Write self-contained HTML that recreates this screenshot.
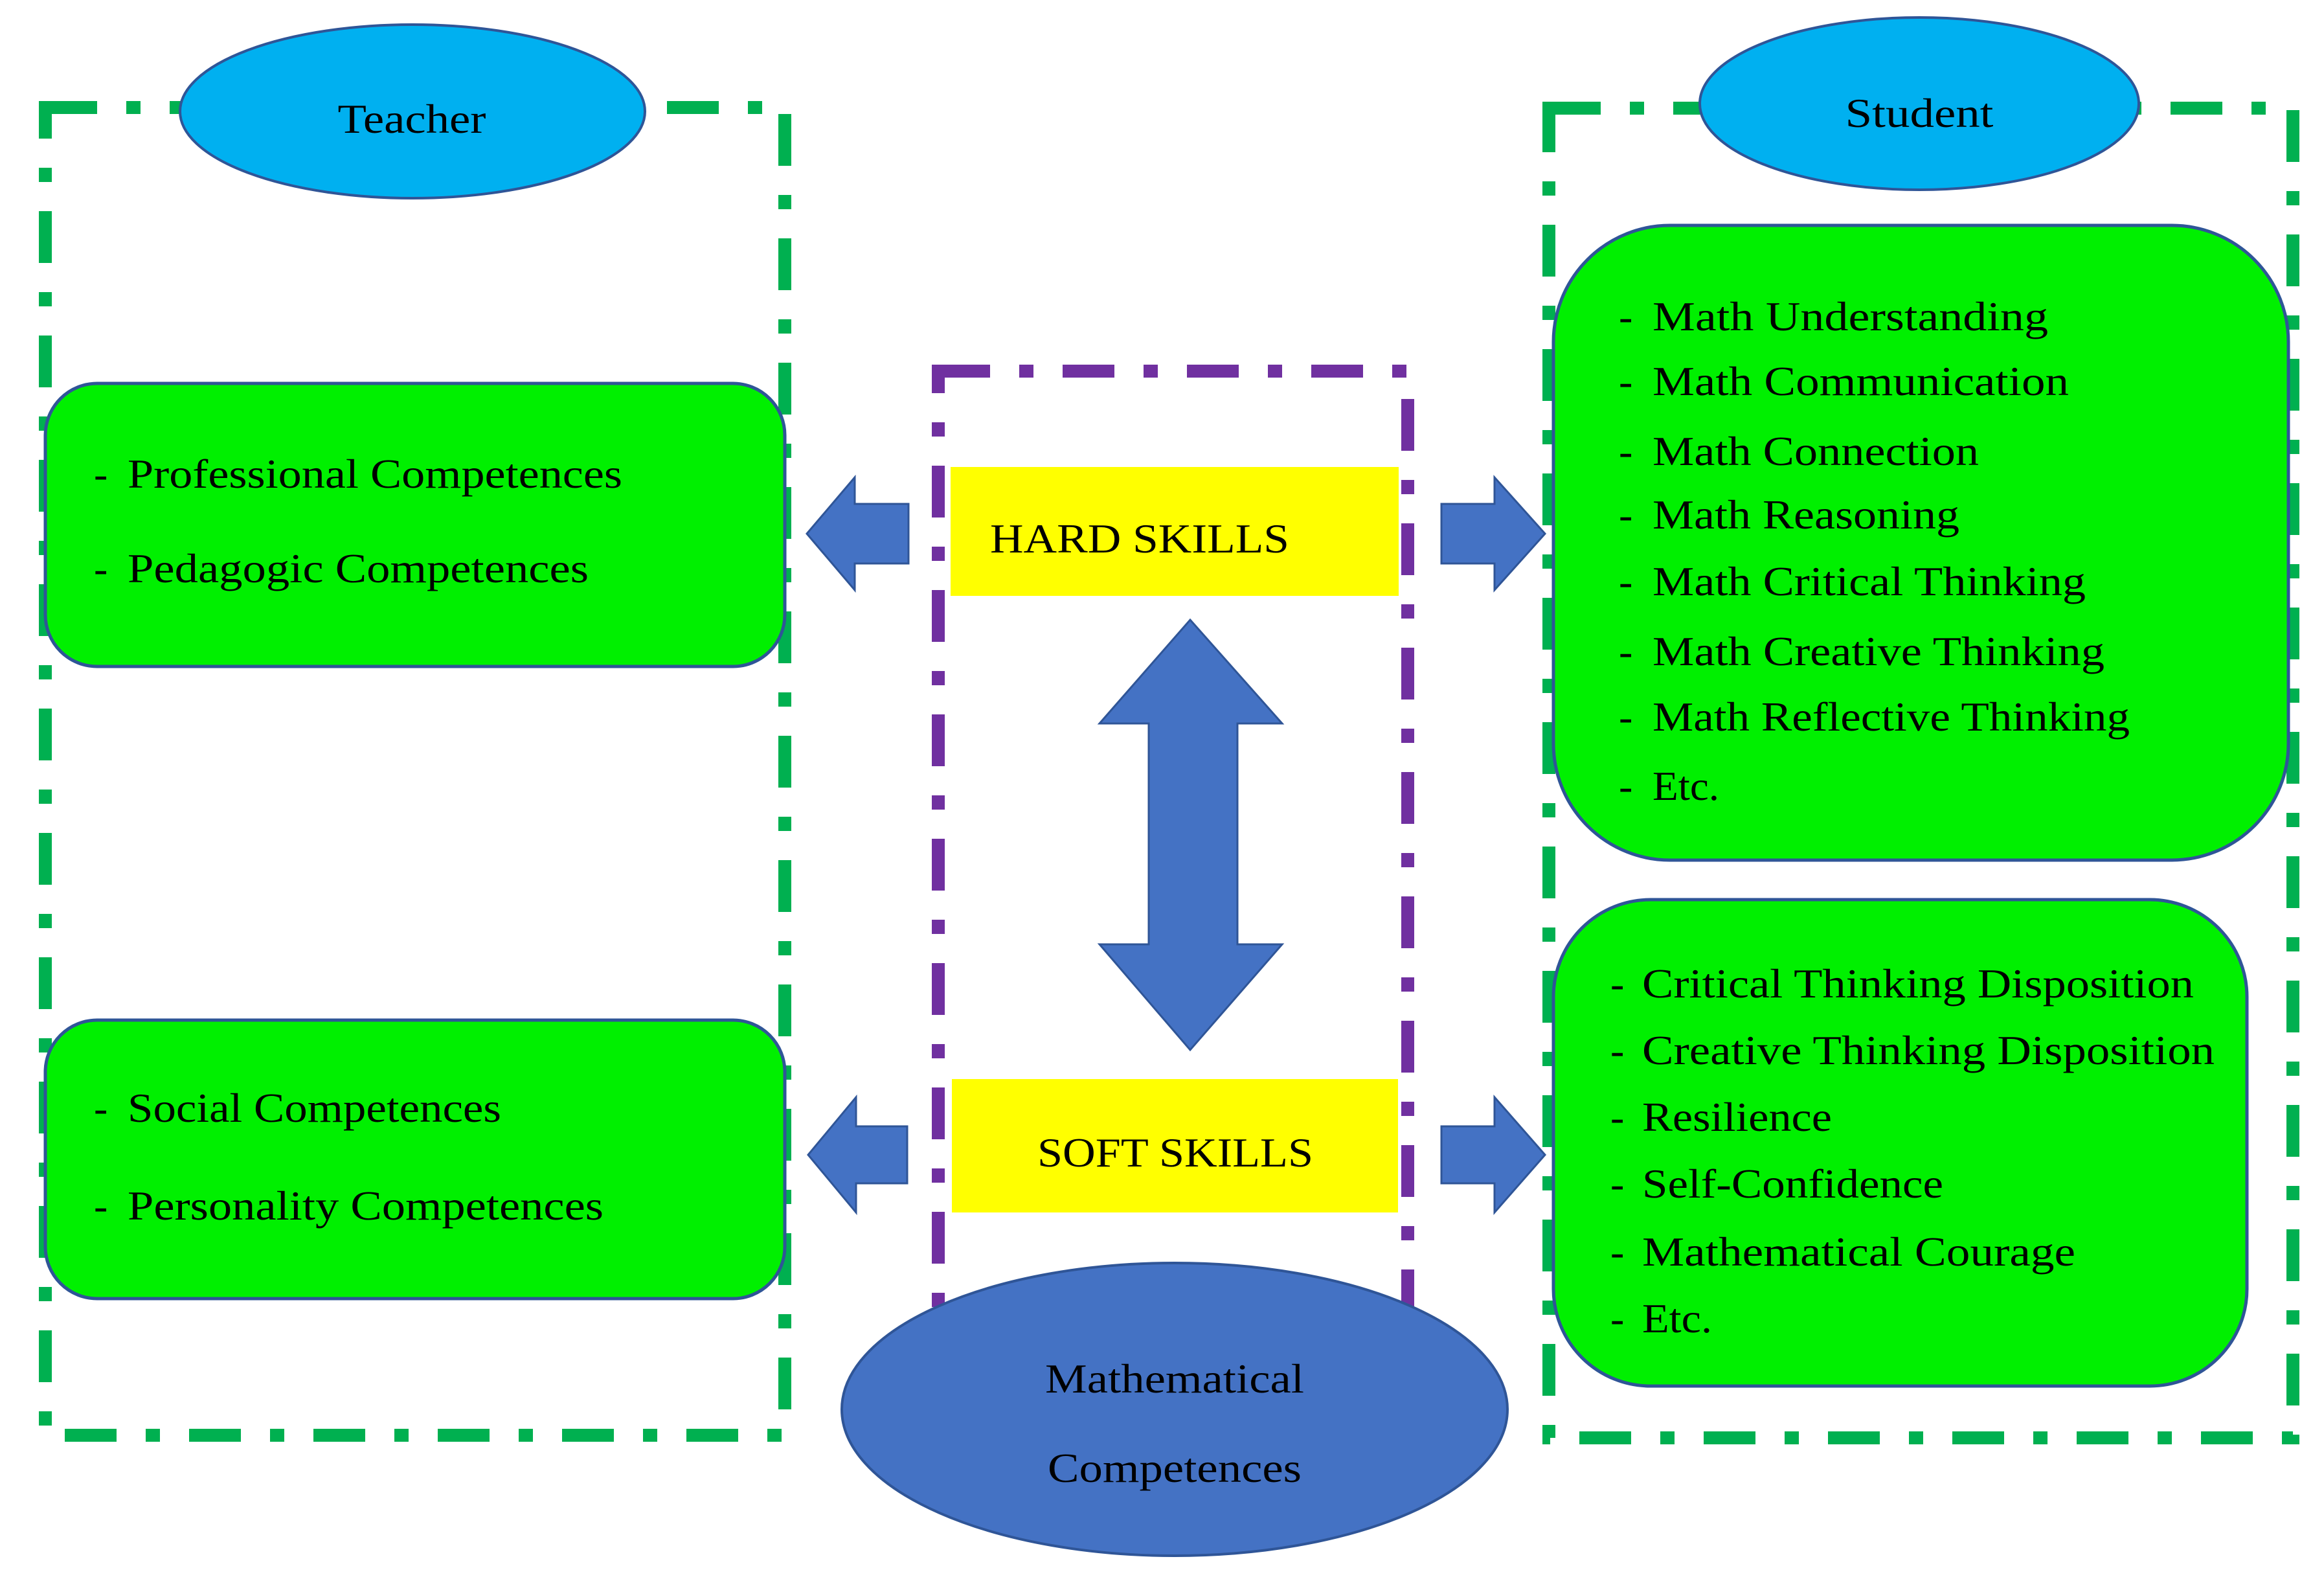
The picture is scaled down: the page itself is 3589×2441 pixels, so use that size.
<!DOCTYPE html>
<html><head><meta charset="utf-8"><style>html,body{margin:0;padding:0;background:#fff}svg{display:block}</style></head>
<body>
<svg width="3589" height="2441" viewBox="0 0 3589 2441" xmlns="http://www.w3.org/2000/svg" font-family="'Liberation Serif', serif" font-size="64" fill="#000">
<rect width="3589" height="2441" fill="#fff"/>
<g fill="none" stroke-width="20" stroke-dasharray="80 45 22 45">
<rect x="70" y="166" width="1142" height="2050" stroke="#00B050"/>
<rect x="2392" y="167" width="1149" height="2053" stroke="#00B050"/>
<rect x="1449" y="573" width="725" height="1500" stroke="#7030A0"/>
</g>
<ellipse cx="637" cy="172" rx="359" ry="134" fill="#00B0F0" stroke="#2F5597" stroke-width="4"/>
<text x="636" y="205" text-anchor="middle" textLength="229" lengthAdjust="spacingAndGlyphs">Teacher</text>
<ellipse cx="2964" cy="160" rx="339" ry="133" fill="#00B0F0" stroke="#2F5597" stroke-width="4"/>
<text x="2964" y="196" text-anchor="middle" textLength="229" lengthAdjust="spacingAndGlyphs">Student</text>
<g fill="#00F000" stroke="#2F5597" stroke-width="5">
<rect x="70" y="592" width="1142" height="437" rx="80"/>
<rect x="70" y="1575" width="1142" height="430" rx="80"/>
<rect x="2399" y="348" width="1135" height="980" rx="180"/>
<rect x="2399" y="1389" width="1071" height="751" rx="150"/>
</g>
<g>
<text x="145" y="753">-</text><text x="197" y="753" textLength="764" lengthAdjust="spacingAndGlyphs">Professional Competences</text>
<text x="145" y="899">-</text><text x="197" y="899" textLength="712" lengthAdjust="spacingAndGlyphs">Pedagogic Competences</text>
<text x="145" y="1732">-</text><text x="197" y="1732" textLength="577" lengthAdjust="spacingAndGlyphs">Social Competences</text>
<text x="145" y="1883">-</text><text x="197" y="1883" textLength="735" lengthAdjust="spacingAndGlyphs">Personality Competences</text>
</g>
<g>
<text x="2500" y="510">-</text><text x="2552" y="510" textLength="611" lengthAdjust="spacingAndGlyphs">Math Understanding</text>
<text x="2500" y="610">-</text><text x="2552" y="610" textLength="643" lengthAdjust="spacingAndGlyphs">Math Communication</text>
<text x="2500" y="718">-</text><text x="2552" y="718" textLength="504" lengthAdjust="spacingAndGlyphs">Math Connection</text>
<text x="2500" y="816">-</text><text x="2552" y="816" textLength="474" lengthAdjust="spacingAndGlyphs">Math Reasoning</text>
<text x="2500" y="919">-</text><text x="2552" y="919" textLength="669" lengthAdjust="spacingAndGlyphs">Math Critical Thinking</text>
<text x="2500" y="1027">-</text><text x="2552" y="1027" textLength="698" lengthAdjust="spacingAndGlyphs">Math Creative Thinking</text>
<text x="2500" y="1128">-</text><text x="2552" y="1128" textLength="737" lengthAdjust="spacingAndGlyphs">Math Reflective Thinking</text>
<text x="2500" y="1235">-</text><text x="2552" y="1235" textLength="103" lengthAdjust="spacingAndGlyphs">Etc.</text>
</g>
<g>
<text x="2487" y="1540">-</text><text x="2536" y="1540" textLength="852" lengthAdjust="spacingAndGlyphs">Critical Thinking Disposition</text>
<text x="2487" y="1643">-</text><text x="2536" y="1643" textLength="884" lengthAdjust="spacingAndGlyphs">Creative Thinking Disposition</text>
<text x="2487" y="1746">-</text><text x="2536" y="1746" textLength="293" lengthAdjust="spacingAndGlyphs">Resilience</text>
<text x="2487" y="1849">-</text><text x="2536" y="1849" textLength="465" lengthAdjust="spacingAndGlyphs">Self-Confidence</text>
<text x="2487" y="1954">-</text><text x="2536" y="1954" textLength="669" lengthAdjust="spacingAndGlyphs">Mathematical Courage</text>
<text x="2487" y="2057">-</text><text x="2536" y="2057" textLength="108" lengthAdjust="spacingAndGlyphs">Etc.</text>
</g>
<rect x="1468" y="721" width="692" height="199" fill="#FFFF00"/>
<text x="1529" y="853" textLength="462" lengthAdjust="spacingAndGlyphs">HARD SKILLS</text>
<rect x="1470" y="1666" width="689" height="206" fill="#FFFF00"/>
<text x="1602" y="1801" textLength="426" lengthAdjust="spacingAndGlyphs">SOFT SKILLS</text>
<g fill="#4472C4" stroke="#2F5597" stroke-width="3">
<polygon points="1246,824 1320,737 1320,778 1403,778 1403,870 1320,870 1320,911"/>
<polygon points="2386,824 2308,737 2308,778 2226,778 2226,870 2308,870 2308,911"/>
<polygon points="1248,1783 1322,1694 1322,1739 1401,1739 1401,1827 1322,1827 1322,1872"/>
<polygon points="2386,1783 2308,1694 2308,1739 2226,1739 2226,1827 2308,1827 2308,1872"/>
<polygon points="1838,957 1980,1117 1911,1117 1911,1458 1980,1458 1838,1621 1698,1458 1774,1458 1774,1117 1698,1117"/>
</g>
<ellipse cx="1814" cy="2176" rx="514" ry="226" fill="#4472C4" stroke="#2F5597" stroke-width="4"/>
<text x="1814" y="2150" text-anchor="middle" textLength="400" lengthAdjust="spacingAndGlyphs">Mathematical</text>
<text x="1814" y="2288" text-anchor="middle" textLength="392" lengthAdjust="spacingAndGlyphs">Competences</text>
</svg>
</body></html>
